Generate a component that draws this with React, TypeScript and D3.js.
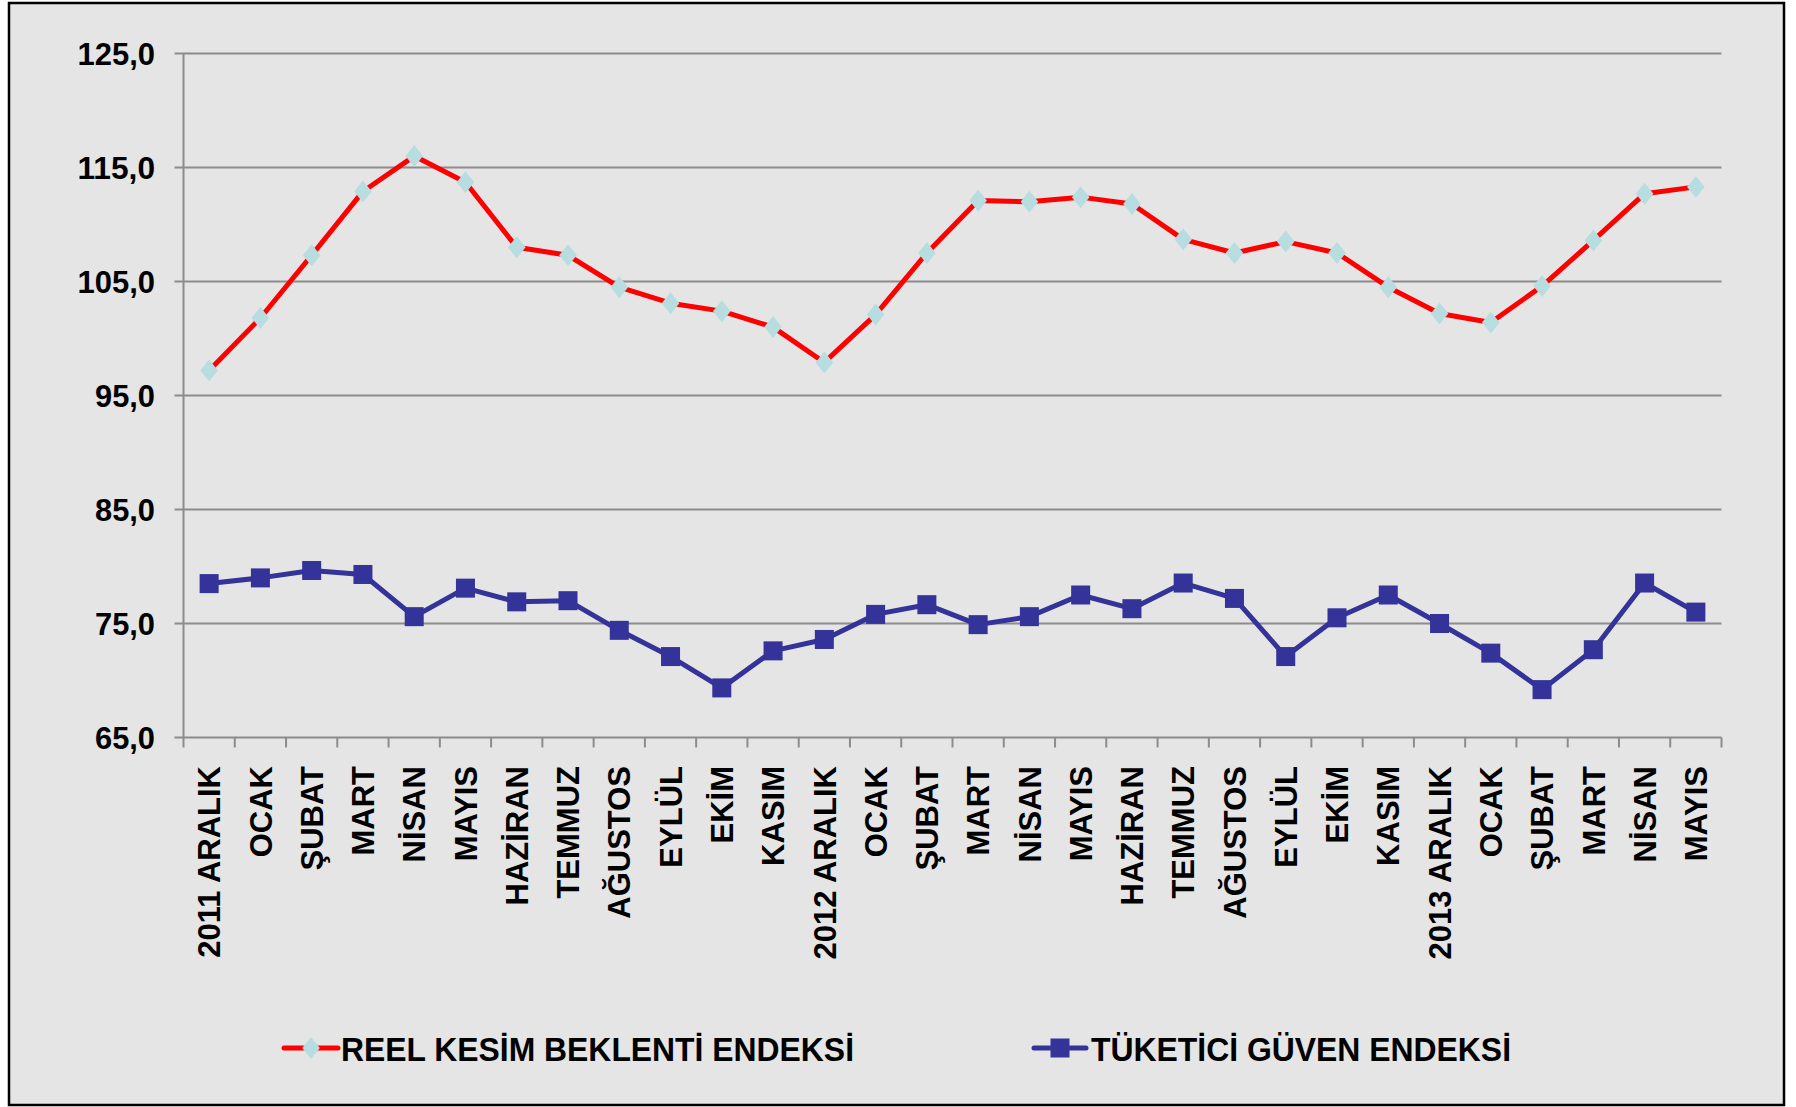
import React from "react";
import * as d3 from "d3";

// months on the x axis (Dec 2011 - May 2013)
const months = [
  "2011 ARALIK", "OCAK", "ŞUBAT", "MART", "NİSAN", "MAYIS", "HAZİRAN", "TEMMUZ",
  "AĞUSTOS", "EYLÜL", "EKİM", "KASIM", "2012 ARALIK", "OCAK", "ŞUBAT", "MART",
  "NİSAN", "MAYIS", "HAZİRAN", "TEMMUZ", "AĞUSTOS", "EYLÜL", "EKİM", "KASIM",
  "2013 ARALIK", "OCAK", "ŞUBAT", "MART", "NİSAN", "MAYIS",
];

// REEL KESİM BEKLENTİ ENDEKSİ
const reelKesim = [
  97.2, 101.8, 107.3, 112.9, 116.0, 113.7, 108.0, 107.3, 104.5, 103.1, 102.4, 101.0,
  97.9, 102.1, 107.5, 112.1, 112.0, 112.4, 111.8, 108.7, 107.5, 108.5, 107.5, 104.5,
  102.2, 101.4, 104.6, 108.6, 112.7, 113.3,
];

// TÜKETİCİ GÜVEN ENDEKSİ
const tuketici = [
  78.5, 79.0, 79.65, 79.3, 75.6, 78.1, 76.9, 77.0, 74.4, 72.1, 69.35, 72.6,
  73.6, 75.8, 76.65, 74.9, 75.6, 77.5, 76.3, 78.55, 77.2, 72.1, 75.5, 77.5,
  75.0, 72.4, 69.2, 72.7, 78.55, 76.0,
];

const yTicks = [65, 75, 85, 95, 105, 115, 125];

const seriesNames = ["REEL KESİM BEKLENTİ ENDEKSİ", "TÜKETİCİ GÜVEN ENDEKSİ"];

const W = 1796;
const H = 1107;
const plot = { left: 183.5, right: 1721.5, top: 53.5, bottom: 737.5 };

const narrow = "'Liberation Sans Narrow', 'Arial Narrow', 'Liberation Sans', Arial, sans-serif";
const wide = "'Liberation Sans', Arial, sans-serif";

const App = () => {
  const x = d3
    .scaleBand<number>()
    .domain(d3.range(months.length))
    .range([plot.left, plot.right]);

  const y = d3.scaleLinear().domain([65, 125]).range([plot.bottom, plot.top]);

  const cx = (i: number) => (x(i) as number) + x.bandwidth() / 2;

  const line = d3
    .line<number>()
    .x((d, i) => cx(i))
    .y((d) => y(d));

  const fmt = (v: number) => d3.format(".1f")(v).replace(".", ",");

  const diamond = (px: number, py: number, r: number) =>
    `M${px},${py - r}L${px + r * 0.8},${py}L${px},${py + r}L${px - r * 0.8},${py}Z`;

  const tickPos = d3.range(months.length + 1).map((i) =>
    i < months.length ? (x(i) as number) : plot.right
  );

  // condensed look for the y labels: squeeze to the measured width
  const labelWidth = (s: string) => s.replace(",", "").length * 17.5 + 7.5;

  return (
    <svg
      width={W}
      height={H}
      style={{ position: "absolute", left: 0, top: 0, background: "#ffffff" }}
    >
      {/* chart frame */}
      <rect x={9} y={3} width={1775} height={1102} fill="#e5e5e5" stroke="#000" strokeWidth={2.5} />

      {/* grid lines and y labels */}
      {yTicks.map((t) => (
        <g key={t}>
          <line x1={plot.left - 9} x2={plot.right} y1={y(t)} y2={y(t)} stroke="#8c8c8c" strokeWidth={2} />
          <text
            x={155 - labelWidth(fmt(t))}
            y={y(t)}
            dy="0.36em"
            fontFamily={narrow}
            fontWeight="bold"
            fontSize={31}
            fill="#000"
            textLength={labelWidth(fmt(t))}
            lengthAdjust="spacingAndGlyphs"
          >
            {fmt(t)}
          </text>
        </g>
      ))}

      {/* y axis */}
      <line x1={plot.left} x2={plot.left} y1={plot.top} y2={plot.bottom} stroke="#8c8c8c" strokeWidth={2} />

      {/* x ticks */}
      {tickPos.map((p, i) => (
        <line key={i} x1={p} x2={p} y1={plot.bottom} y2={plot.bottom + 10} stroke="#8c8c8c" strokeWidth={2} />
      ))}

      {/* x labels */}
      {months.map((m, i) => (
        <text
          key={i}
          transform={`translate(${cx(i)}, 766) rotate(-90)`}
          dy="0.36em"
          textAnchor="end"
          fontFamily={wide}
          fontWeight="bold"
          fontSize={31}
          fill="#000"
        >
          {m}
        </text>
      ))}

      {/* red series */}
      <path d={line(reelKesim) ?? ""} fill="none" stroke="#ff0000" strokeWidth={5} strokeLinejoin="round" />
      {reelKesim.map((v, i) => (
        <path key={i} d={diamond(cx(i), y(v), 11)} fill="#b7dde1" />
      ))}

      {/* blue series */}
      <path d={line(tuketici) ?? ""} fill="none" stroke="#333399" strokeWidth={5} strokeLinejoin="round" />
      {tuketici.map((v, i) => (
        <rect key={i} x={cx(i) - 9.5} y={y(v) - 9.5} width={19} height={19} fill="#333399" />
      ))}

      {/* legend */}
      <g>
        <line x1={284} x2={338} y1={1048} y2={1048} stroke="#ff0000" strokeWidth={5} strokeLinecap="round" />
        <path d={diamond(311, 1048, 11)} fill="#b7dde1" />
        <text x={341} y={1061} fontFamily={narrow} fontWeight="bold" fontSize={34} fill="#000" textLength={513} lengthAdjust="spacingAndGlyphs">
          {seriesNames[0]}
        </text>

        <line x1={1034} x2={1086} y1={1048} y2={1048} stroke="#333399" strokeWidth={5} strokeLinecap="round" />
        <rect x={1050.5} y={1038.5} width={19} height={19} fill="#333399" />
        <text x={1091} y={1061} fontFamily={narrow} fontWeight="bold" fontSize={34} fill="#000" textLength={420} lengthAdjust="spacingAndGlyphs">
          {seriesNames[1]}
        </text>
      </g>
    </svg>
  );
};

export default App;
